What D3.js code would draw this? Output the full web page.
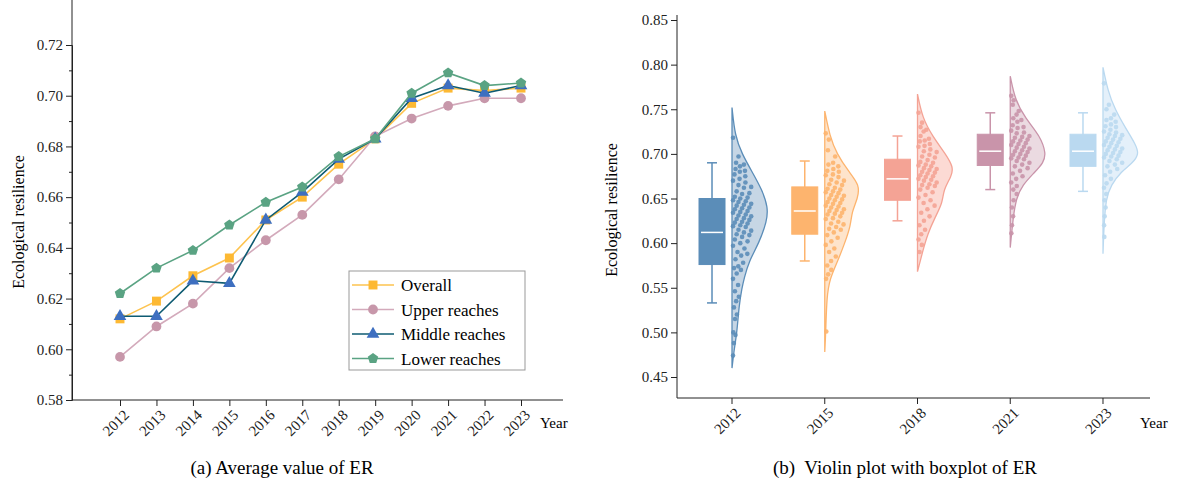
<!DOCTYPE html>
<html><head><meta charset="utf-8">
<script src="https://cdn.jsdelivr.net/npm/d3@7"></script>
<style>body{margin:0;background:#fff}svg text{font-family:"Liberation Serif","Times New Roman",serif !important}</style>
</head><body><svg id="c" width="1179" height="493"></svg>
<script>
// ---- (a) line chart data ----
const years = [2012,2013,2014,2015,2016,2017,2018,2019,2020,2021,2022,2023];
const overall = [.612,.619,.629,.636,.651,.660,.673,.683,.697,.703,.702,.703];
const upper   = [.597,.609,.618,.632,.643,.653,.667,.684,.691,.696,.699,.699];
const middle  = [.613,.613,.627,.626,.651,.662,.675,.683,.699,.704,.701,.704];
const lower   = [.622,.632,.639,.649,.658,.664,.676,.683,.701,.709,.704,.705];
const yTicksA = [.58,.60,.62,.64,.66,.68,.70,.72];

// ---- (b) violin + box data ----
const groups = ["2012","2015","2018","2021","2023"];
const boxStats = [ // [min, q1, median, q3, max]
  [.533,.576,.612,.650,.690],
  [.580,.610,.636,.663,.692],
  [.625,.648,.672,.694,.720],
  [.660,.687,.703,.722,.746],
  [.658,.686,.703,.722,.746]
];
const density = [ // [value, half-width px]
  [[.46,0],[.48,2],[.50,5],[.53,7],[.55,10],[.56,12],[.58,17],[.60,27],[.625,35],[.64,36],[.66,30],[.68,20],[.70,10],[.72,3],[.752,0]],
  [[.478,0],[.50,1],[.54,2],[.56,5],[.58,13],[.60,20],[.62,26],[.635,27],[.65,33],[.665,35],[.68,24],[.70,12],[.72,5],[.748,0]],
  [[.568,0],[.59,5],[.61,10],[.63,18],[.645,25],[.66,26],[.675,34],[.685,36],[.70,28],[.72,15],[.74,5],[.767,0]],
  [[.595,0],[.63,3],[.65,6],[.665,12],[.68,25],[.69,33],[.70,36],[.72,30],[.74,15],[.76,5],[.787,0]],
  [[.588,0],[.62,1],[.65,3],[.665,8],[.68,18],[.69,30],[.70,36],[.71,33],[.73,22],[.75,12],[.77,5],[.797,0]]
];
const points = [
  [.718,.697,.690,.688,.686,.683,.681,.680,.677,.675,.672,.670,.668,.665,.663,.662,.658,.656,.655,.652,.651,.650,.648,.647,.646,.644,.643,.642,.640,.639,.638,.636,.635,.634,.632,.631,.630,.628,.627,.626,.624,.623,.622,.620,.619,.618,.615,.614,.612,.610,.609,.607,.604,.602,.600,.597,.594,.590,.588,.586,.582,.578,.574,.572,.570,.566,.560,.553,.546,.540,.535,.528,.520,.515,.500,.497,.488,.474],
  [.723,.716,.704,.697,.690,.688,.686,.683,.681,.680,.677,.676,.674,.671,.670,.668,.666,.665,.662,.661,.660,.658,.657,.656,.654,.653,.652,.650,.649,.648,.646,.645,.644,.642,.641,.640,.638,.637,.636,.634,.633,.632,.630,.628,.627,.624,.622,.621,.618,.616,.615,.612,.609,.606,.602,.598,.594,.590,.585,.580,.575,.570,.565,.560,.501],
  [.746,.735,.730,.727,.725,.720,.717,.715,.714,.711,.709,.708,.705,.703,.702,.699,.697,.696,.693,.691,.690,.688,.687,.686,.684,.683,.682,.680,.679,.678,.676,.675,.674,.672,.671,.670,.668,.666,.665,.664,.662,.660,.657,.654,.651,.648,.645,.642,.638,.634,.630,.625,.620,.615,.610,.604,.598,.590],
  [.765,.760,.755,.748,.744,.740,.738,.736,.732,.730,.729,.726,.724,.723,.720,.719,.718,.716,.715,.714,.712,.711,.710,.708,.707,.706,.704,.703,.702,.700,.699,.698,.696,.695,.694,.692,.690,.688,.686,.684,.681,.678,.675,.672,.668,.664,.660,.655,.648,.640,.630,.620,.611],
  [.779,.755,.750,.744,.740,.738,.736,.733,.731,.730,.727,.725,.724,.722,.721,.720,.718,.717,.716,.714,.713,.712,.710,.709,.708,.706,.705,.704,.702,.701,.700,.698,.697,.696,.694,.692,.690,.688,.686,.683,.680,.676,.672,.667,.662,.655,.648,.640,.630,.620,.607]
];
const boxFill = ["#5b8db8","#fdb46e","#f4a395","#c994aa","#bad9f0"];
const vFill   = ["#bccfe0","#fedfc2","#fbd4cd","#e7d3dc","#dfedf9"];
const vStroke = ["#5b8db8","#fdb46e","#f4a395","#c994aa","#bad9f0"];

const svg = d3.select("#c");
const fixFont = g => g.attr("font-family",null).attr("font-size",15);

// ===== (a) =====
const xA = d3.scalePoint().domain(years).range([120,521]);
const yA = d3.scaleLinear().domain([.58,.72]).range([400,45]);
const gA = svg.append("g");
gA.append("g").attr("transform","translate(72,0)")
  .call(d3.axisLeft(yA).tickValues(yTicksA).tickFormat(d3.format(".2f")).tickSizeOuter(0))
  .call(fixFont)
  .call(g=>g.select(".domain").attr("d","M0,400V0"));
gA.append("g").attr("transform","translate(72,0)")
  .call(d3.axisLeft(yA).tickValues(d3.range(.59,.72,.02)).tickFormat("").tickSize(3));
gA.append("g").attr("transform","translate(0,400)")
  .call(d3.axisBottom(xA).tickSizeOuter(0))
  .call(fixFont)
  .call(g=>g.select(".domain").attr("d","M72,0H563"))
  .selectAll("text").attr("transform","rotate(-45)").attr("text-anchor","end").attr("dx","-0.3em").attr("dy","0.6em");
gA.append("text").attr("x",540).attr("y",428).attr("font-size",15).text("Year");
gA.append("text").attr("transform","translate(24,222) rotate(-90)").attr("text-anchor","middle").attr("font-size",16).text("Ecological resilience");
gA.append("text").attr("x",282).attr("y",474).attr("text-anchor","middle").attr("font-size",19).text("(a) Average value of ER");

const seriesA = [
  {name:"Overall",v:overall,line:"#fdc34f",mk:"#fdb933",sym:d3.symbolSquare,size:80},
  {name:"Upper reaches",v:upper,line:"#d3aabb",mk:"#c797aa",sym:d3.symbolCircle,size:75},
  {name:"Middle reaches",v:middle,line:"#0e5b72",mk:"#3e6fc0",sym:d3.symbolTriangle,size:70},
  {name:"Lower reaches",v:lower,line:"#5aa383",mk:"#5aa383",sym:d3.symbolCircle,size:75}
];
const pent = d3.line()(d3.range(5).map(i=>{const a=-Math.PI/2+i*2*Math.PI/5;return [5.5*Math.cos(a),5.5*Math.sin(a)];}))+"Z";
const line = d3.line().x((d,i)=>xA(years[i])).y(d=>yA(d));
seriesA.forEach((s,k)=>{
  gA.append("path").datum(s.v).attr("fill","none").attr("stroke",s.line).attr("stroke-width",1.6).attr("d",line);
  gA.selectAll(null).data(s.v).join("path")
    .attr("transform",(d,i)=>`translate(${xA(years[i])},${yA(d)})`)
    .attr("d",k===3?pent:d3.symbol(s.sym,s.size)()).attr("fill",s.mk);
});
const lg = gA.append("g").attr("transform","translate(349,271)");
lg.append("rect").attr("width",176).attr("height",99).attr("fill","#fff").attr("stroke","#999");
seriesA.forEach((s,k)=>{
  const y=14+k*24.5;
  lg.append("line").attr("x1",3).attr("x2",45).attr("y1",y).attr("y2",y).attr("stroke",s.line).attr("stroke-width",1.6);
  lg.append("path").attr("transform",`translate(24,${y})`).attr("d",k===3?pent:d3.symbol(s.sym,s.size)()).attr("fill",s.mk);
  lg.append("text").attr("x",52).attr("y",y+6).attr("font-size",17).text(s.name);
});

// ===== (b) =====
const xB = d3.scaleBand().domain(groups).range([677,1150]).paddingOuter(0.05);
const yB = d3.scaleLinear().domain([.45,.85]).range([377,20]);
const gB = svg.append("g");
gB.append("g").attr("transform","translate(677,0)")
  .call(d3.axisLeft(yB).ticks(8).tickFormat(d3.format(".2f")).tickSizeOuter(0))
  .call(fixFont)
  .call(g=>g.select(".domain").attr("d","M0,398V15"));
gB.append("g").attr("transform","translate(0,398)")
  .call(d3.axisBottom(xB).tickSizeOuter(0))
  .call(fixFont)
  .call(g=>g.select(".domain").attr("d","M677,0H1150"))
  .call(g=>g.selectAll(".tick").attr("transform",d=>`translate(${xB(d)+xB.bandwidth()/2+4},0)`))
  .selectAll("text").attr("transform","rotate(-45)").attr("text-anchor","end").attr("dx","-0.3em").attr("dy","0.6em");
gB.append("text").attr("x",1140).attr("y",428).attr("font-size",15).text("Year");
gB.append("text").attr("transform","translate(617,210) rotate(-90)").attr("text-anchor","middle").attr("font-size",16).text("Ecological resilience");
gB.append("text").attr("x",905).attr("y",474).attr("text-anchor","middle").attr("font-size",19).attr("xml:space","preserve").text("(b)  Violin plot with boxplot of ER");

groups.forEach((g,i)=>{
  const cx = xB(g)+xB.bandwidth()/2;
  const vx = cx+4, bx = cx-16;
  const dens = density[i];
  const area = d3.area().curve(d3.curveBasis).y(d=>yB(d[0])).x0(vx).x1(d=>vx+d[1]);
  gB.append("path").datum(dens).attr("d",area).attr("fill",vFill[i]).attr("fill-opacity",0.85)
    .attr("stroke",vStroke[i]).attr("stroke-width",1.3);
  const wAt = v=>{for(let k=1;k<dens.length;k++){if(v<=dens[k][0]){const a=dens[k-1],b=dens[k];return a[1]+(b[1]-a[1])*(v-a[0])/(b[0]-a[0]);}}return 0;};
  gB.selectAll(null).data(points[i]).join("circle")
    .attr("cx",(d,j)=>vx+1+((j*7)%11)/11*Math.min(wAt(d)*0.75,20))
    .attr("cy",d=>yB(d)).attr("r",2.3).attr("fill",vStroke[i]).attr("opacity",0.9);
  const [mn,q1,md,q3,mx] = boxStats[i];
  const bw = 13;
  gB.append("line").attr("x1",bx).attr("x2",bx).attr("y1",yB(mx)).attr("y2",yB(mn)).attr("stroke",boxFill[i]).attr("stroke-width",1.5);
  [mn,mx].forEach(v=>gB.append("line").attr("x1",bx-5).attr("x2",bx+5).attr("y1",yB(v)).attr("y2",yB(v)).attr("stroke",boxFill[i]).attr("stroke-width",1.5));
  gB.append("rect").attr("x",bx-bw).attr("width",bw*2).attr("y",yB(q3)).attr("height",yB(q1)-yB(q3)).attr("fill",boxFill[i]).attr("stroke",boxFill[i]);
  gB.append("line").attr("x1",bx-bw+2).attr("x2",bx+bw-2).attr("y1",yB(md)).attr("y2",yB(md)).attr("stroke","#fff").attr("stroke-width",1.5);
});
svg.selectAll(".tick text").attr("fill","#222");
svg.selectAll(".domain,.tick line").attr("stroke","#222");
</script></body></html>
